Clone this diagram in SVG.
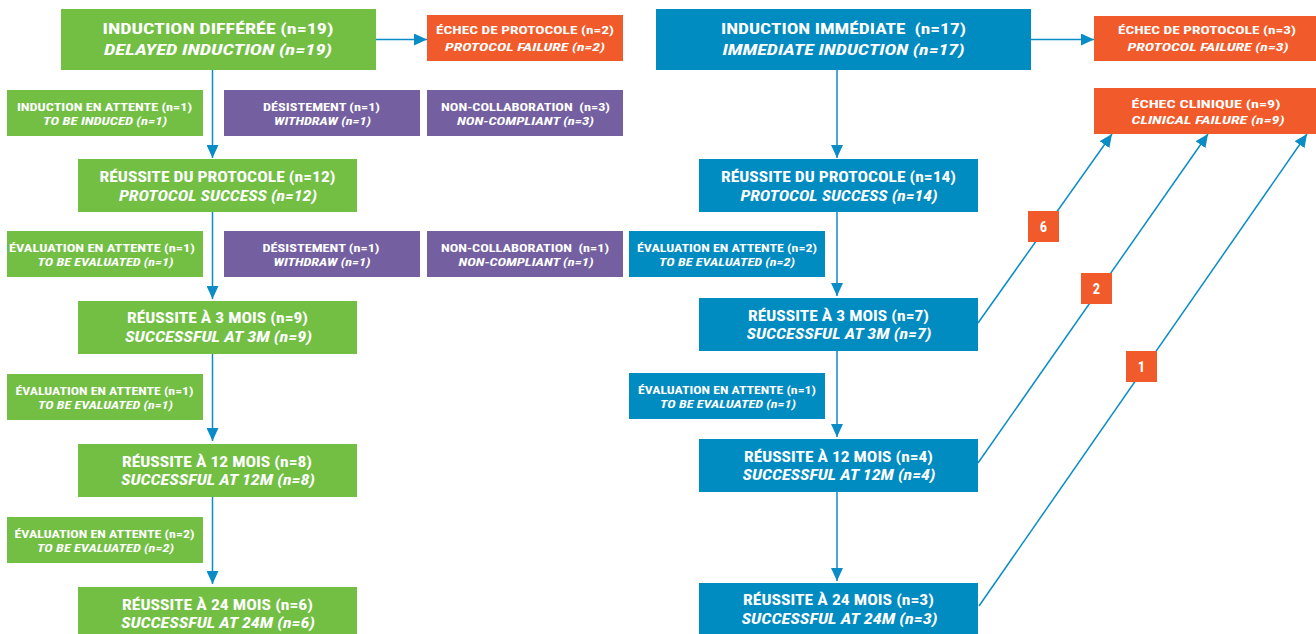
<svg xmlns="http://www.w3.org/2000/svg" width="1316" height="634" viewBox="0 0 1316 634">
<style>
text{font-family:"Liberation Sans Narrow","Roboto Condensed","Liberation Sans",Arial,sans-serif;font-weight:bold;fill:#fff;text-anchor:middle}
.i{font-style:italic}
.big{font-size:15.5px}
.main{font-size:14.5px}
.sm{font-size:11.5px}
.g{fill:#72bf44}
.b{fill:#008bc1}
.p{fill:#7460a1}
.o{fill:#f15a2a}
.c{stroke:#0a8cc6;stroke-width:1.5;fill:none;marker-end:url(#ah)}
</style>
<defs>
<marker id="ah" markerUnits="userSpaceOnUse" markerWidth="13" markerHeight="12" viewBox="0 0 13 12" refX="13" refY="6" orient="auto">
<path d="M0,0 L13,6 L0,12 z" fill="#0a8cc6"/>
</marker>
</defs>
<rect width="1316" height="634" fill="#fff"/>
<g id="connectors">
<path class="c" d="M212.5,70 V158"/>
<path class="c" d="M212.5,212 V299"/>
<path class="c" d="M212.5,354 V441"/>
<path class="c" d="M212.5,496 V584"/>
<path class="c" d="M376,39.5 H427"/>
<path class="c" d="M837,70 V158"/>
<path class="c" d="M837,212 V296"/>
<path class="c" d="M837,351 V437"/>
<path class="c" d="M837,492 V581"/>
<path class="c" d="M1031,39.5 H1094"/>
<path class="c" d="M978,323 L1112,134"/>
<path class="c" d="M978,463 L1208,134"/>
<path class="c" d="M979,606 L1307,134"/>
</g>
<g id="n_delayed">
<rect class="g" x="61" y="9" width="315" height="61"/>
<text class="big" x="218" y="33.5" textLength="231" lengthAdjust="spacingAndGlyphs">INDUCTION DIFFÉRÉE (n=19)</text>
<text class="big i" x="218" y="55" textLength="228" lengthAdjust="spacingAndGlyphs">DELAYED INDUCTION (n=19)</text>
</g>
<g id="n_pf_left">
<rect class="o" x="427" y="15" width="196" height="46"/>
<text class="sm" x="525" y="33.5" textLength="178" lengthAdjust="spacingAndGlyphs">ÉCHEC DE PROTOCOLE (n=2)</text>
<text class="sm i" x="525" y="50.5" textLength="160" lengthAdjust="spacingAndGlyphs">PROTOCOL FAILURE (n=2)</text>
</g>
<g id="n_immediate">
<rect class="b" x="656" y="9" width="375" height="61"/>
<text class="big" x="843.5" y="33.5" textLength="245" lengthAdjust="spacingAndGlyphs" xml:space="preserve">INDUCTION IMMÉDIATE  (n=17)</text>
<text class="big i" x="843.5" y="55" textLength="242" lengthAdjust="spacingAndGlyphs">IMMEDIATE INDUCTION (n=17)</text>
</g>
<g id="n_pf_right">
<rect class="o" x="1094" y="16" width="226" height="45"/>
<text class="sm" x="1207" y="34" textLength="178" lengthAdjust="spacingAndGlyphs">ÉCHEC DE PROTOCOLE (n=3)</text>
<text class="sm i" x="1208" y="50.5" textLength="161" lengthAdjust="spacingAndGlyphs">PROTOCOL FAILURE (n=3)</text>
</g>
<g id="n_clinical">
<rect class="o" x="1094" y="88" width="226" height="46"/>
<text class="sm" x="1206" y="108" textLength="149" lengthAdjust="spacingAndGlyphs">ÉCHEC CLINIQUE (n=9)</text>
<text class="sm i" x="1208" y="124" textLength="153" lengthAdjust="spacingAndGlyphs">CLINICAL FAILURE (n=9)</text>
</g>
<g id="n_to_induce">
<rect class="g" x="7" y="90" width="196" height="46"/>
<text class="sm" x="104.5" y="110.5" textLength="175" lengthAdjust="spacingAndGlyphs">INDUCTION EN ATTENTE (n=1)</text>
<text class="sm i" x="105" y="125" textLength="124" lengthAdjust="spacingAndGlyphs">TO BE INDUCED (n=1)</text>
</g>
<g id="n_withdraw1">
<rect class="p" x="224" y="90" width="196" height="46"/>
<text class="sm" x="321.5" y="110.5" textLength="117" lengthAdjust="spacingAndGlyphs">DÉSISTEMENT (n=1)</text>
<text class="sm i" x="322.5" y="125" textLength="97" lengthAdjust="spacingAndGlyphs">WITHDRAW (n=1)</text>
</g>
<g id="n_noncomp1">
<rect class="p" x="427" y="90" width="196" height="46"/>
<text class="sm" x="525.5" y="110.5" textLength="169" lengthAdjust="spacingAndGlyphs" xml:space="preserve">NON-COLLABORATION  (n=3)</text>
<text class="sm i" x="525.5" y="125" textLength="137" lengthAdjust="spacingAndGlyphs">NON-COMPLIANT (n=3)</text>
</g>
<g id="n_ps_g">
<rect class="g" x="78" y="159" width="279" height="53"/>
<text class="main" x="217.5" y="182" textLength="236" lengthAdjust="spacingAndGlyphs">RÉUSSITE DU PROTOCOLE (n=12)</text>
<text class="main i" x="218" y="200.5" textLength="198" lengthAdjust="spacingAndGlyphs">PROTOCOL SUCCESS (n=12)</text>
</g>
<g id="n_ps_b">
<rect class="b" x="699" y="159" width="279" height="53"/>
<text class="main" x="838.5" y="182" textLength="235" lengthAdjust="spacingAndGlyphs">RÉUSSITE DU PROTOCOLE (n=14)</text>
<text class="main i" x="839" y="200.5" textLength="197" lengthAdjust="spacingAndGlyphs">PROTOCOL SUCCESS (n=14)</text>
</g>
<g id="n_eval_g1">
<rect class="g" x="7" y="231" width="196" height="46"/>
<text class="sm" x="102" y="251.5" textLength="186" lengthAdjust="spacingAndGlyphs">ÉVALUATION EN ATTENTE (n=1)</text>
<text class="sm i" x="105.5" y="266" textLength="136" lengthAdjust="spacingAndGlyphs">TO BE EVALUATED (n=1)</text>
</g>
<g id="n_withdraw2">
<rect class="p" x="224" y="231" width="196" height="46"/>
<text class="sm" x="321" y="251.5" textLength="117" lengthAdjust="spacingAndGlyphs">DÉSISTEMENT (n=1)</text>
<text class="sm i" x="322" y="266" textLength="97" lengthAdjust="spacingAndGlyphs">WITHDRAW (n=1)</text>
</g>
<g id="n_noncomp2">
<rect class="p" x="427" y="231" width="196" height="46"/>
<text class="sm" x="525" y="251.5" textLength="168" lengthAdjust="spacingAndGlyphs" xml:space="preserve">NON-COLLABORATION  (n=1)</text>
<text class="sm i" x="526" y="266" textLength="135" lengthAdjust="spacingAndGlyphs">NON-COMPLIANT (n=1)</text>
</g>
<g id="n_eval_b1">
<rect class="b" x="629" y="231" width="196" height="46"/>
<text class="sm" x="727" y="251.5" textLength="180" lengthAdjust="spacingAndGlyphs">ÉVALUATION EN ATTENTE (n=2)</text>
<text class="sm i" x="727" y="266" textLength="136" lengthAdjust="spacingAndGlyphs">TO BE EVALUATED (n=2)</text>
</g>
<g id="n_3m_g">
<rect class="g" x="78" y="301" width="279" height="53"/>
<text class="main" x="217.5" y="323" textLength="181" lengthAdjust="spacingAndGlyphs">RÉUSSITE À 3 MOIS (n=9)</text>
<text class="main i" x="218.5" y="341.5" textLength="187" lengthAdjust="spacingAndGlyphs">SUCCESSFUL AT 3M (n=9)</text>
</g>
<g id="n_3m_b">
<rect class="b" x="699" y="298" width="279" height="53"/>
<text class="main" x="838.5" y="320.5" textLength="181" lengthAdjust="spacingAndGlyphs">RÉUSSITE À 3 MOIS (n=7)</text>
<text class="main i" x="839" y="339" textLength="185" lengthAdjust="spacingAndGlyphs">SUCCESSFUL AT 3M (n=7)</text>
</g>
<g id="n_eval_g2">
<rect class="g" x="7" y="374" width="196" height="46"/>
<text class="sm" x="104.5" y="394.5" textLength="178" lengthAdjust="spacingAndGlyphs">ÉVALUATION EN ATTENTE (n=1)</text>
<text class="sm i" x="105.5" y="409" textLength="135" lengthAdjust="spacingAndGlyphs">TO BE EVALUATED (n=1)</text>
</g>
<g id="n_eval_b2">
<rect class="b" x="629" y="373" width="196" height="46"/>
<text class="sm" x="727" y="393.5" textLength="178" lengthAdjust="spacingAndGlyphs">ÉVALUATION EN ATTENTE (n=1)</text>
<text class="sm i" x="728" y="408" textLength="136" lengthAdjust="spacingAndGlyphs">TO BE EVALUATED (n=1)</text>
</g>
<g id="n_12m_g">
<rect class="g" x="78" y="444" width="279" height="53"/>
<text class="main" x="217" y="466.5" textLength="190" lengthAdjust="spacingAndGlyphs">RÉUSSITE À 12 MOIS (n=8)</text>
<text class="main i" x="218" y="485" textLength="194" lengthAdjust="spacingAndGlyphs">SUCCESSFUL AT 12M (n=8)</text>
</g>
<g id="n_12m_b">
<rect class="b" x="699" y="439" width="279" height="53"/>
<text class="main" x="838.5" y="461.5" textLength="189" lengthAdjust="spacingAndGlyphs">RÉUSSITE À 12 MOIS (n=4)</text>
<text class="main i" x="839" y="480" textLength="193" lengthAdjust="spacingAndGlyphs">SUCCESSFUL AT 12M (n=4)</text>
</g>
<g id="n_eval_g3">
<rect class="g" x="7" y="517" width="196" height="46"/>
<text class="sm" x="104.5" y="537.5" textLength="180" lengthAdjust="spacingAndGlyphs">ÉVALUATION EN ATTENTE (n=2)</text>
<text class="sm i" x="105.5" y="552" textLength="137" lengthAdjust="spacingAndGlyphs">TO BE EVALUATED (n=2)</text>
</g>
<g id="n_24m_g">
<rect class="g" x="78" y="587" width="279" height="53"/>
<text class="main" x="217.5" y="609.5" textLength="191" lengthAdjust="spacingAndGlyphs">RÉUSSITE À 24 MOIS (n=6)</text>
<text class="main i" x="218" y="628" textLength="194" lengthAdjust="spacingAndGlyphs">SUCCESSFUL AT 24M (n=6)</text>
</g>
<g id="n_24m_b">
<rect class="b" x="699" y="583" width="279" height="53"/>
<text class="main" x="838.5" y="605" textLength="191" lengthAdjust="spacingAndGlyphs">RÉUSSITE À 24 MOIS (n=3)</text>
<text class="main i" x="839.5" y="623.5" textLength="196" lengthAdjust="spacingAndGlyphs">SUCCESSFUL AT 24M (n=3)</text>
</g>
<g id="badge_6">
<rect class="o" x="1028" y="211" width="31" height="31"/>
<text class="main" x="1043.5" y="231.5">6</text>
</g>
<g id="badge_2">
<rect class="o" x="1081" y="273" width="31" height="31"/>
<text class="main" x="1096.5" y="293.5">2</text>
</g>
<g id="badge_1">
<rect class="o" x="1126" y="351" width="31" height="31"/>
<text class="main" x="1141.5" y="371.5">1</text>
</g>
</svg>
